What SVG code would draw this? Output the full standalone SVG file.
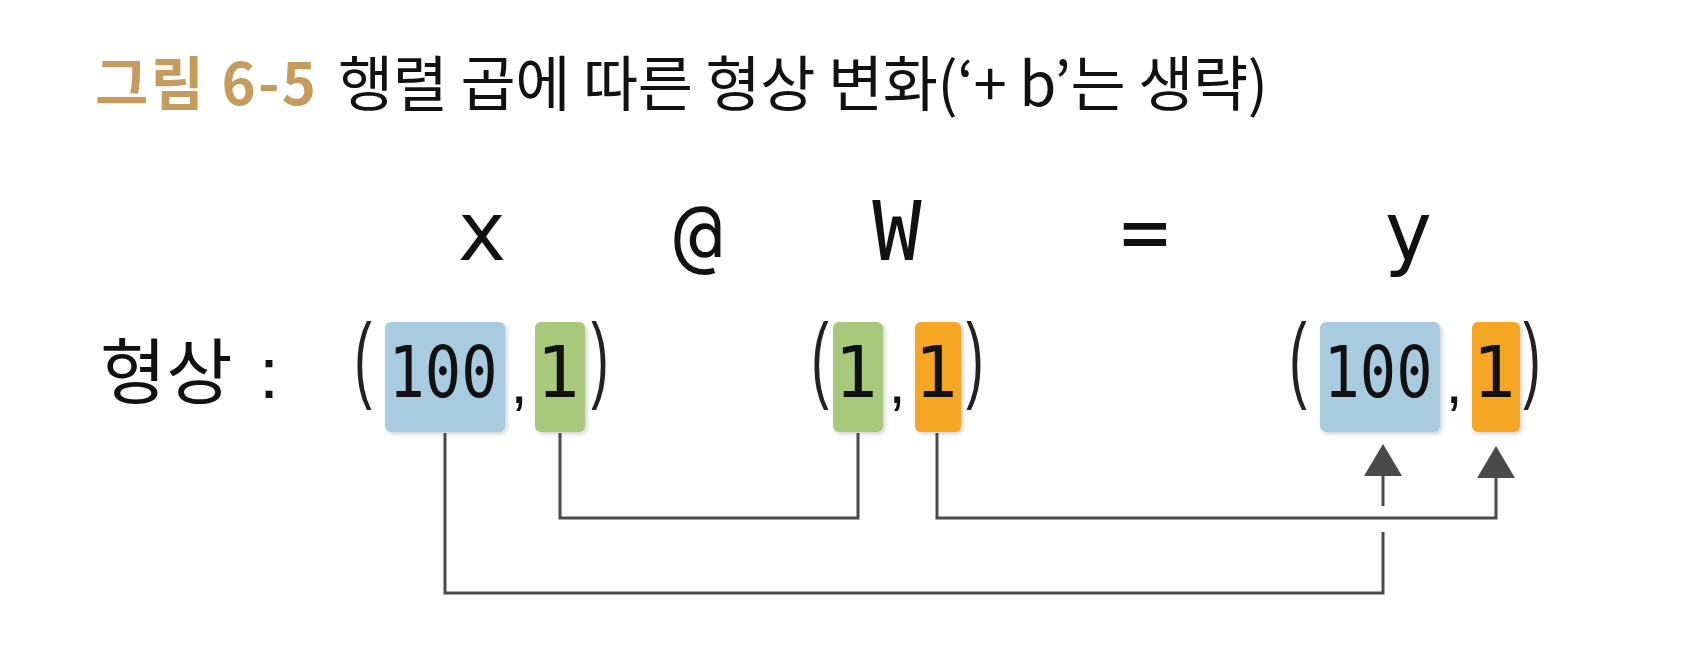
<svg xmlns="http://www.w3.org/2000/svg" width="1698" height="659" viewBox="0 0 1698 659">
  <style>
    .kr { font-family: "Noto Sans CJK KR", "Noto Sans", sans-serif; fill: #111; }
    .eq { font-family: "DejaVu Sans Mono", "Liberation Mono", monospace; font-size: 82px; fill: #111; text-anchor: middle; }
    .dig { font-family: "DejaVu Sans Mono", "Liberation Mono", monospace; font-size: 72px; fill: #111; text-anchor: middle; }
    .par { font-family: "Liberation Sans", "DejaVu Sans", sans-serif; font-size: 95px; fill: #222; text-anchor: middle; }
    .com { font-family: "Liberation Sans", "DejaVu Sans", sans-serif; font-size: 62px; fill: #111; text-anchor: middle; }
    .blue { fill: #a9cbe0; }
    .green { fill: #a8c97c; }
    .orange { fill: #f5a623; }
    .conn { fill: none; stroke: #4a4a4a; stroke-width: 3; }
  </style>
  <defs>
    <filter id="sh" x="-20%" y="-20%" width="140%" height="140%">
      <feDropShadow dx="2" dy="2" stdDeviation="2" flood-color="#000" flood-opacity="0.18"/>
    </filter>
    <marker id="arr" viewBox="0 0 32 38" refX="0" refY="19" markerWidth="32" markerHeight="38" markerUnits="userSpaceOnUse" orient="auto">
      <path d="M0,0 L32,19 L0,38 z" fill="#4a4a4a"/>
    </marker>
  </defs>
  <rect width="1698" height="659" fill="#fff"/>

  <g id="title">
    <text x="95" y="105" class="kr" font-size="58" font-weight="700" style="fill:#c69c5c" textLength="221" lengthAdjust="spacing">그림 6-5</text>
    <text x="338" y="106" class="kr" font-size="60" textLength="930" lengthAdjust="spacing">행렬 곱에 따른 형상 변화(‘+ b’는 생략)</text>
  </g>

  <g id="eq-x"><text x="482" y="260" class="eq">x</text></g>
  <g id="eq-at"><text x="698" y="262" class="eq" font-size="88">@</text></g>
  <g id="eq-W"><text x="897" y="260" class="eq">W</text></g>
  <g id="eq-eq"><text x="1145" y="260" class="eq">=</text></g>
  <g id="eq-y"><text x="1408" y="260" class="eq">y</text></g>

  <g id="label">
    <text x="100" y="398" class="kr" font-size="72">형상<tspan x="269" text-anchor="middle" font-family="Liberation Sans, sans-serif">:</tspan></text>
  </g>

  <g id="shape-x">
    <rect x="385" y="322" width="120" height="110" rx="6" class="blue" filter="url(#sh)"/>
    <rect x="535" y="322" width="50" height="110" rx="6" class="green" filter="url(#sh)"/>
    <text transform="translate(363,390) scale(0.55,1)" class="par">(</text>
    <text transform="translate(443,397) scale(0.84,1)" class="dig">100</text>
    <text x="519" y="403" class="com">,</text>
    <text x="558" y="397" class="dig">1</text>
    <text transform="translate(600,390) scale(0.55,1)" class="par">)</text>
  </g>

  <g id="shape-W">
    <rect x="833" y="322" width="50" height="110" rx="6" class="green" filter="url(#sh)"/>
    <rect x="915" y="322" width="46" height="110" rx="6" class="orange" filter="url(#sh)"/>
    <text transform="translate(820,390) scale(0.55,1)" class="par">(</text>
    <text x="856" y="397" class="dig">1</text>
    <text x="897" y="403" class="com">,</text>
    <text x="936" y="397" class="dig">1</text>
    <text transform="translate(975,390) scale(0.55,1)" class="par">)</text>
  </g>

  <g id="shape-y">
    <rect x="1320" y="322" width="120" height="110" rx="6" class="blue" filter="url(#sh)"/>
    <rect x="1472" y="322" width="48" height="110" rx="6" class="orange" filter="url(#sh)"/>
    <text transform="translate(1298,390) scale(0.55,1)" class="par">(</text>
    <text transform="translate(1378,397) scale(0.84,1)" class="dig">100</text>
    <text x="1454" y="403" class="com">,</text>
    <text x="1494" y="397" class="dig">1</text>
    <text transform="translate(1532,390) scale(0.55,1)" class="par">)</text>
  </g>

  <g id="connectors">
    <path class="conn" d="M445,433 V593 H1383 V532"/>
    <path class="conn" d="M1383,506 V476" marker-end="url(#arr)"/>
    <path class="conn" d="M560,433 V518 H858 V433"/>
    <path class="conn" d="M937,433 V518 H1496 V478" marker-end="url(#arr)"/>
  </g>
</svg>
